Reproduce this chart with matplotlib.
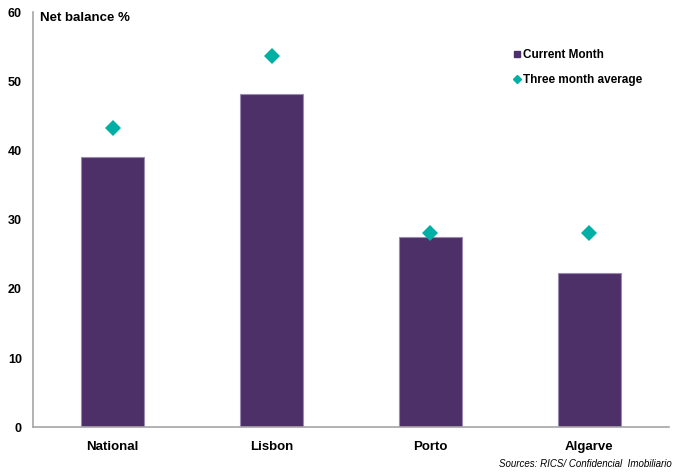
import matplotlib.pyplot as plt
from matplotlib.lines import Line2D
import numpy as np

plt.rcParams['font.family'] = ['Liberation Sans', 'DejaVu Sans']

regions = ["National", "Lisbon", "Porto", "Algarve"]
current_month = [39.0, 48.2, 27.5, 22.3]
three_month_avg = [43.2, 53.7, 28.1, 28.1]
yticks = [0, 10, 20, 30, 40, 50, 60]

purple = "#4E3068"
teal = "#00B0A4"

fig = plt.figure(figsize=(6.75, 4.72), dpi=100)
ax = fig.add_axes([0.049, 0.095, 0.942, 0.879])

x = np.arange(len(regions))
ax.bar(x, current_month, width=0.4, color=purple, edgecolor="#9C8AB2",
       linewidth=0.8, zorder=2)
ax.plot(x, three_month_avg, linestyle="none", marker="D", markersize=8.5,
        color=teal, markeredgewidth=0, zorder=3)

ax.set_xlim(-0.5, len(regions) - 0.5)
ax.set_ylim(0, 60)
ax.set_yticks(yticks)
ax.set_xticks(x)
ax.set_xticklabels(regions, fontsize=9.5, fontweight="bold")
ax.set_yticklabels([str(t) for t in yticks], fontsize=9, fontweight="bold")
ax.tick_params(axis="both", length=0)
ax.tick_params(axis="x", pad=10)
ax.tick_params(axis="y", pad=8)

for side in ("top", "right"):
    ax.spines[side].set_visible(False)
for side in ("left", "bottom"):
    ax.spines[side].set_color("#A6A6A6")
    ax.spines[side].set_linewidth(1.2)

fig.text(0.059, 0.962, "Net balance %", fontsize=9.5, fontweight="bold",
         ha="left", va="center")

handles = [
    Line2D([], [], linestyle="none", marker="s", markersize=5, color=purple),
    Line2D([], [], linestyle="none", marker="D", markersize=4.5, color=teal),
]
ax.legend(handles, ["Current Month", "Three month average"],
          loc="upper left", bbox_to_anchor=(0.745, 0.918),
          bbox_transform=fig.transFigure, frameon=False,
          handlelength=0.6, handletextpad=0.2, labelspacing=1.05,
          prop={"size": 8.5, "weight": "bold"})

fig.text(0.995, 0.006, "Sources: RICS/ Confidencial  Imobiliario",
         fontsize=7, style="italic", ha="right", va="bottom")

fig.savefig("out.png", dpi=100)
